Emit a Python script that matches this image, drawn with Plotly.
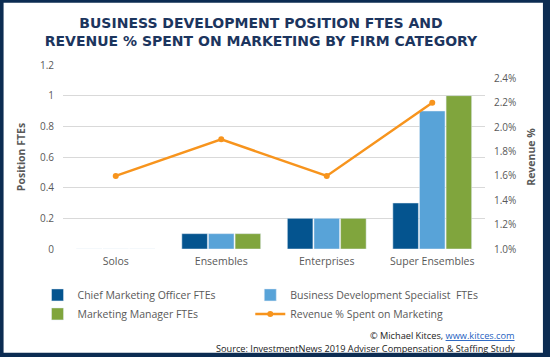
import plotly.graph_objects as go

categories = ["Solos", "Ensembles", "Enterprises", "Super Ensembles"]
cmo_ftes = [0, 0.1, 0.2, 0.3]
bds_ftes = [0, 0.1, 0.2, 0.9]
mm_ftes = [0, 0.1, 0.2, 1.0]
revenue_pct = [1.6, 1.9, 1.6, 2.2]
left_ticks = [0, 0.2, 0.4, 0.6, 0.8, 1.0, 1.2]
left_tick_text = ["0", "0.2", "0.4", "0.6", "0.8", "1", "1.2"]
right_ticks = [1.0, 1.2, 1.4, 1.6, 1.8, 2.0, 2.2, 2.4]
right_tick_text = ["1.0%", "1.2%", "1.4%", "1.6%", "1.8%", "2.0%", "2.2%", "2.4%"]

W_PX, H_PX = 550, 357
ML, MR, MT, MB = 62.5, 65, 64.5, 108
PW = W_PX - ML - MR
PH = H_PX - MT - MB

def px_x(px):
    return (px - ML) / PW

def px_y(py):
    return (H_PX - MB - py) / PH

GRAY = "#595959"
NAVY = "#0c2c52"

fig = go.Figure()
fig.add_trace(go.Bar(x=categories, y=cmo_ftes, name="Chief Marketing Officer FTEs",
                     marker=dict(color="#04548f"), legend="legend", legendrank=1))
fig.add_trace(go.Bar(x=categories, y=bds_ftes, name="Business Development Specialist  FTEs",
                     marker=dict(color="#58a3d8"), legend="legend2", legendrank=1))
fig.add_trace(go.Bar(x=categories, y=mm_ftes, name="Marketing Manager FTEs",
                     marker=dict(color="#80a53d"), legend="legend", legendrank=2))
fig.add_trace(go.Scatter(x=categories, y=revenue_pct, name="Revenue % Spent on Marketing",
                         yaxis="y2", mode="lines+markers", legend="legend2", legendrank=2,
                         line=dict(color="#f7941d", width=2.5),
                         marker=dict(color="#f7941d", size=6)))

legend_common = dict(orientation="v", xanchor="left", yanchor="top", bgcolor="white",
                     traceorder="normal", font=dict(size=10.5, color=GRAY))

fig.update_layout(
    width=W_PX, height=H_PX,
    margin=dict(l=ML, r=MR, t=MT, b=MB, autoexpand=False),
    paper_bgcolor=NAVY,
    plot_bgcolor="white",
    barmode="group",
    bargap=0.243,
    bargroupgap=0.04,
    font=dict(family="Open Sans", size=10, color=GRAY),
    title=dict(
        text="BUSINESS DEVELOPMENT POSITION FTES AND<br>REVENUE % SPENT ON MARKETING BY FIRM CATEGORY",
        x=(261) / W_PX, xanchor="center", y=1 - 27.5 / H_PX, yanchor="middle",
        font=dict(family="DejaVu Sans", size=14, color="#1c355e", weight="bold"),
    ),
    xaxis=dict(type="category", showgrid=False, showline=False, ticks="",
               ticklabelstandoff=4,
               tickfont=dict(size=10.5, color=GRAY)),
    yaxis=dict(range=[0, 1.2], tickvals=left_ticks, ticktext=left_tick_text,
               showgrid=True, gridcolor="#d9d9d9", gridwidth=1, zeroline=False,
               showline=False, ticks="", ticklabelstandoff=8,
               tickfont=dict(size=10, color=GRAY),
               title=dict(text="<b>Position FTEs</b>", standoff=12,
                          font=dict(size=10.5, color=GRAY))),
    yaxis2=dict(overlaying="y", side="right", range=[1.0, 1.0 + 1.4 * PH / 171.0],
                tickvals=right_ticks, ticktext=right_tick_text,
                showgrid=False, zeroline=False, showline=False, ticks="",
                ticklabelstandoff=8,
                tickfont=dict(size=10, color=GRAY),
                title=dict(text="<b>Revenue %</b>", standoff=12,
                           font=dict(size=10.5, color=GRAY))),
    legend=dict(x=px_x(37), y=px_y(280.5), **legend_common),
    legend2=dict(x=px_x(250), y=px_y(280.5), **legend_common),
    shapes=[dict(type="rect", xref="paper", yref="paper", layer="below",
                 x0=px_x(3), x1=px_x(543), y0=px_y(353), y1=px_y(2),
                 fillcolor="white", line=dict(width=0))],
    annotations=[
        dict(text='© Michael Kitces, <a href="https://www.kitces.com" style="color:#1f5fbf"><u>www.kitces.com</u></a>',
             xref="paper", yref="paper", x=px_x(517), y=px_y(336), xanchor="right", yanchor="middle",
             showarrow=False, font=dict(size=9.2, color="#222222")),
        dict(text="Source: InvestmentNews 2019 Adviser Compensation &amp; Staffing Study",
             xref="paper", yref="paper", x=px_x(517), y=px_y(349), xanchor="right", yanchor="middle",
             showarrow=False, font=dict(size=9.2, color="#222222")),
    ],
)

fig.write_html("out.html", config={"displayModeBar": False},
               post_script="document.body.style.margin='0';document.body.style.overflow='hidden';")
